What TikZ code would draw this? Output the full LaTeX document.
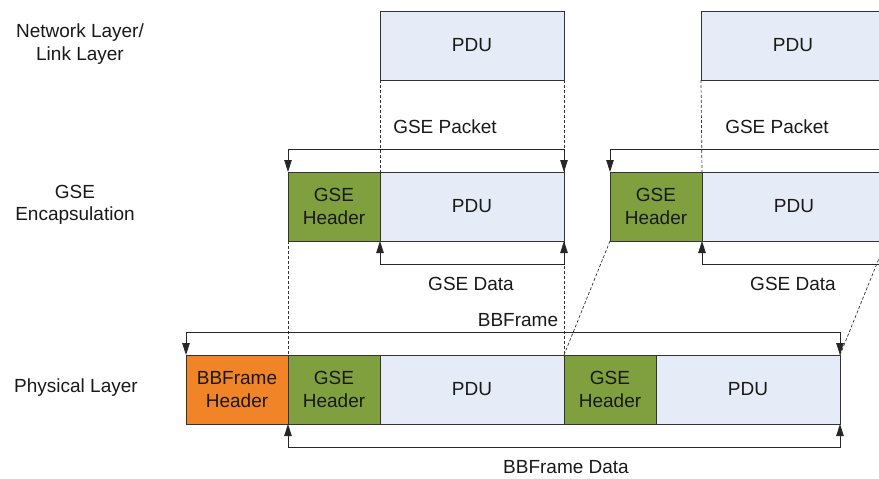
\documentclass[tikz,border=0pt]{standalone}
\usepackage{fontspec}
\setmainfont{Liberation Sans}
\usetikzlibrary{arrows.meta,positioning}
\definecolor{pdublue}{RGB}{230,236,247}
\definecolor{hdrgreen}{RGB}{128,160,64}
\definecolor{bborange}{RGB}{240,132,38}

\begin{document}
\begin{tikzpicture}[
        x=1pt, y=-1pt,
        every node/.style={font=\fontsize{19pt}{22.5pt}\selectfont, align=center, text=black!90},
        field/.style={draw=black!80, line width=0.9pt, minimum height=69pt, inner sep=0pt, outer sep=0pt, anchor=north west},
        pdu/.style={field, fill=pdublue, minimum width=184pt},
        gsehdr/.style={field, fill=hdrgreen, minimum width=92pt},
        bbhdr/.style={field, fill=bborange, minimum width=102pt},
        span/.style={line width=0.8pt, draw=black!85, {Triangle[length=12pt,width=7.5pt]}-{Triangle[length=12pt,width=7.5pt]}},
        guide/.style={line width=0.7pt, draw=black!80, dash pattern=on 3pt off 2pt}
      ]
      \useasboundingbox (0,0) rectangle (879,479);
      \clip (0,0) rectangle (879,479);

      % layer names
      \node (netlbl) at (80,44) {Network Layer/\\Link Layer};
      \node (enclbl) at (75,205) {GSE\\Encapsulation};
      \node (phylbl) at (76,388) {Physical Layer};

      % network / link layer
      \node[pdu] (tp1) at (380,11) {PDU};
      \node[pdu] (tp2) at (701,11) {PDU};

      % GSE encapsulation
      \node[gsehdr] (mh1) at (288,172) {GSE\\Header};
      \node[pdu, right=0pt of mh1] (mp1) {PDU};
      \node[gsehdr] (mh2) at (610,172) {GSE\\Header};
      \node[pdu, right=0pt of mh2] (mp2) {PDU};

      % physical layer
      \node[bbhdr] (bh0) at (186,355) {BBFrame\\Header};
      \node[gsehdr, right=0pt of bh0] (bh1) {GSE\\Header};
      \node[pdu, right=0pt of bh1] (bp1) {PDU};
      \node[gsehdr, right=0pt of bp1] (bh2) {GSE\\Header};
      \node[pdu, right=0pt of bh2] (bp2) {PDU};

      % dashed guides
      \draw[guide] (tp1.south west) -- (mp1.north west);
      \draw[guide] (tp1.south east) -- (mp1.north east);
      \draw[guide] (tp2.south west) -- (mp2.north west);
      \draw[guide] (tp2.south east) -- (mp2.north east);
      \draw[guide] (mh1.south west) -- (bh1.north west);
      \draw[guide] (mp1.south east) -- (bp1.north east);
      \draw[guide] (mh2.south west) -- (bh2.north west);
      \draw[guide] (mp2.south east) -- (bp2.north east);

      % spans
      \draw[span] (mh1.north west) -- ++(0,-23) -| (mp1.north east);
      \draw[span] (mp1.south west) -- ++(0,23) -| (mp1.south east);
      \draw[span] (mh2.north west) -- ++(0,-23) -| (mp2.north east);
      \draw[span] (mp2.south west) -- ++(0,23) -| (mp2.south east);
      \draw[span] (bh0.north west) -- ++(0,-23) -| (bp2.north east);
      \draw[span] (bh1.south west) -- ++(0,23) -| (bp2.south east);

      \node (pkt1) at (445,127) {GSE Packet};
      \node (pkt2) at (777,127) {GSE Packet};
      \node (dat1) at (471,284) {GSE Data};
      \node (dat2) at (793,284) {GSE Data};
      \node (bbf) at (518,320) {BBFrame};
      \node (bbd) at (566,467) {BBFrame Data};

    \end{tikzpicture}
\end{document}
